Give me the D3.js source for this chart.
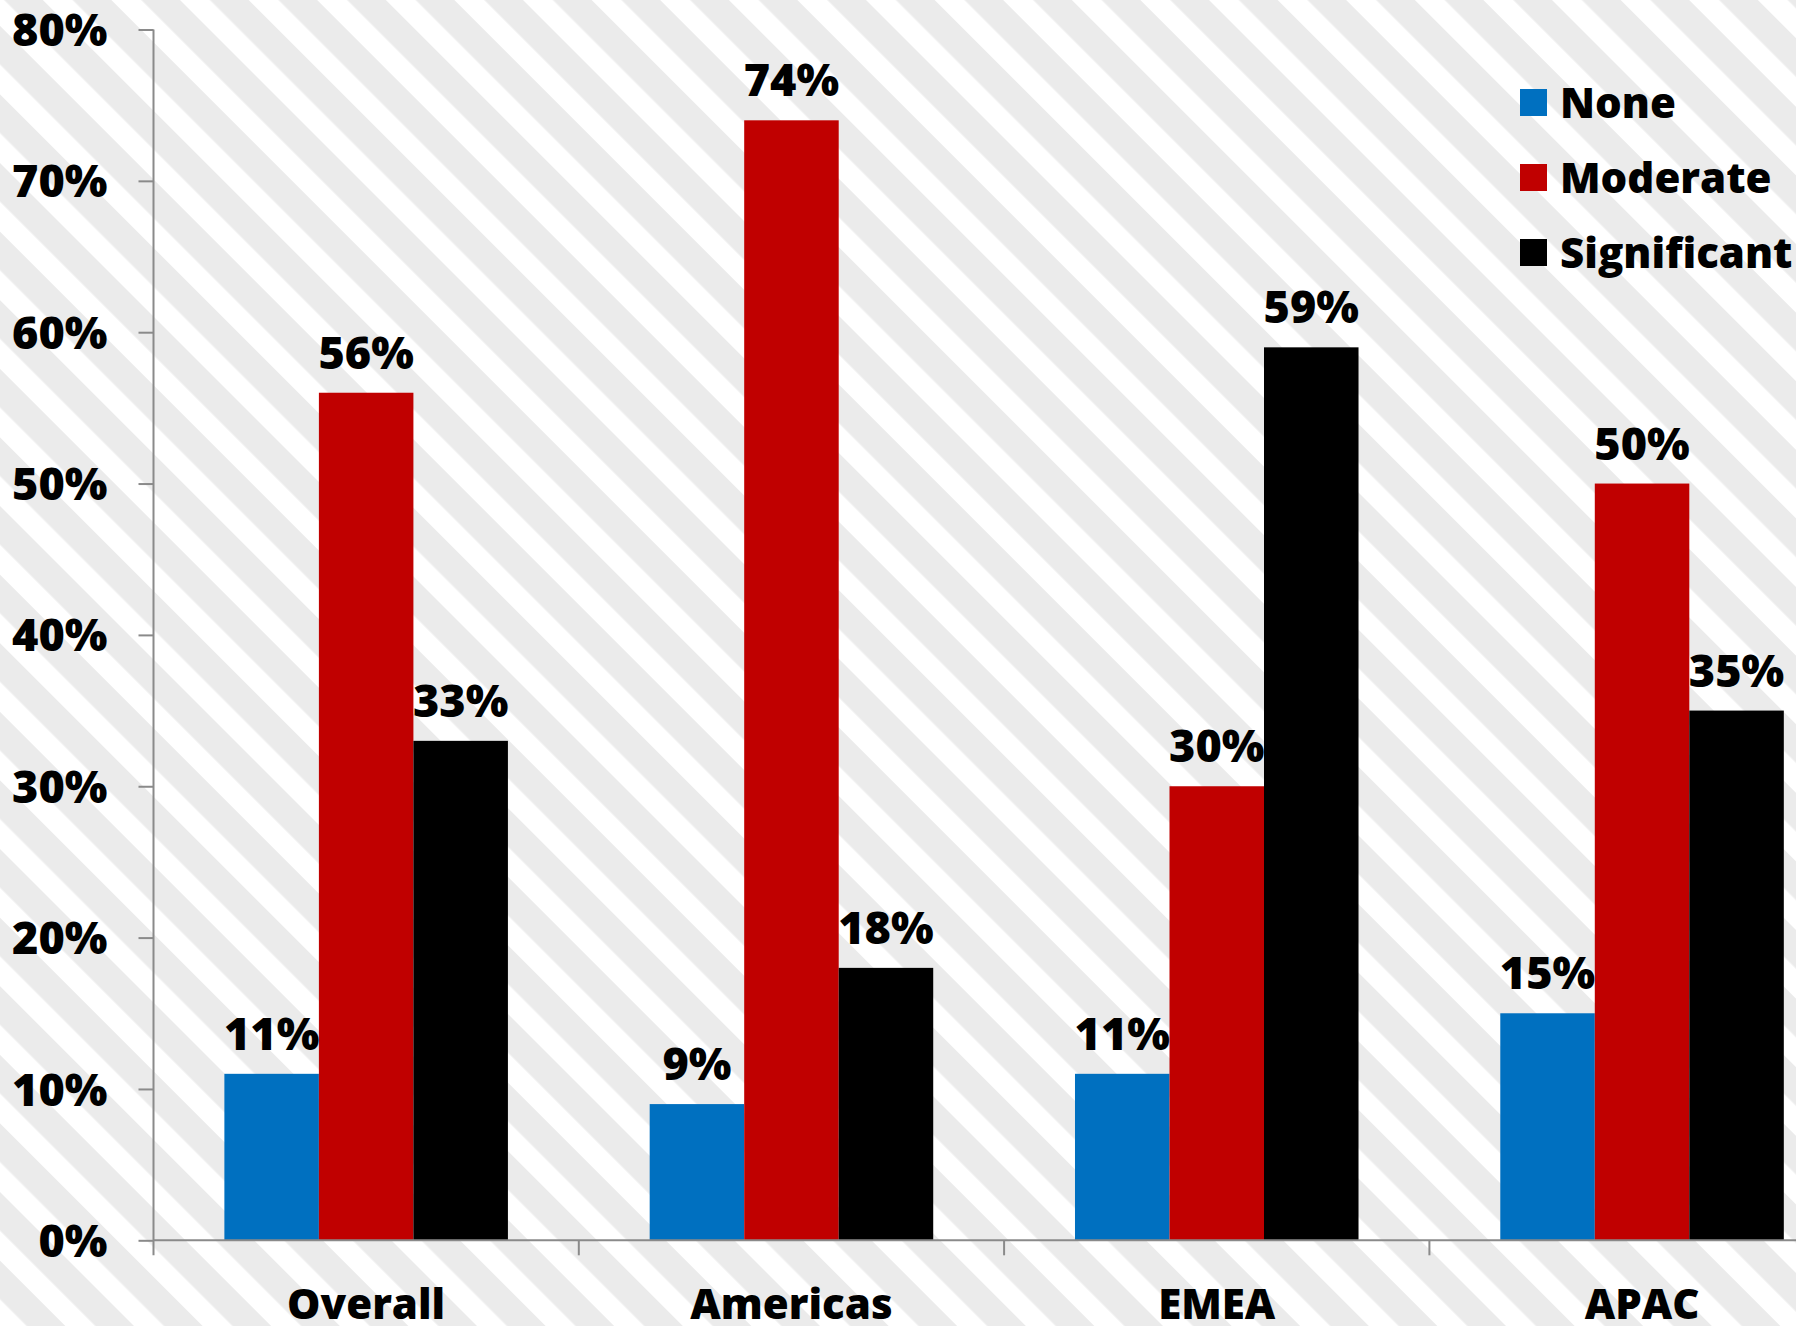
<!DOCTYPE html>
<html>
<head>
<meta charset="utf-8">
<script src="https://cdn.jsdelivr.net/npm/d3@7"></script>
<style>
  html, body { margin: 0; padding: 0; background: #fff; }
  svg { display: block; }
  text { font-family: "Open Sans", "DejaVu Sans", sans-serif; font-weight: 700; fill: #000; }
</style>
</head>
<body>
<svg id="chart" width="1796" height="1326"></svg>
<script>
// Regions and impact levels
const categories = ["Overall", "Americas", "EMEA", "APAC"];
const seriesNames = ["None", "Moderate", "Significant"];
const noneValues = [0.11, 0.09, 0.11, 0.15];
const moderateValues = [0.56, 0.74, 0.30, 0.50];
const significantValues = [0.33, 0.18, 0.59, 0.35];
const yTicks = [0, 0.1, 0.2, 0.3, 0.4, 0.5, 0.6, 0.7, 0.8];
const seriesColors = ["#0070C0", "#C00000", "#000000"];

const seriesValues = [noneValues, moderateValues, significantValues];

const W = 1796, H = 1326;
const svg = d3.select("#chart");

// Diagonal striped backdrop
const defs = svg.append("defs");
const period = 68.6 / Math.SQRT2;   // perpendicular stripe period
const whiteW = 30 / Math.SQRT2;
const pat = defs.append("pattern")
  .attr("id", "stripes")
  .attr("patternUnits", "userSpaceOnUse")
  .attr("x", 180 / Math.SQRT2)
  .attr("y", 0)
  .attr("width", period)
  .attr("height", 400)
  .attr("patternTransform", "rotate(-45)");
pat.append("rect").attr("width", period).attr("height", 400).attr("fill", "#ebebeb");
pat.append("rect").attr("width", whiteW).attr("height", 400).attr("fill", "#ffffff");

svg.append("rect").attr("width", W).attr("height", H).attr("fill", "url(#stripes)");

// Scales
const axisX = 153.5;
const bandStep = 425.3;
const x0 = d3.scaleBand()
  .domain(categories)
  .range([axisX, axisX + bandStep * categories.length])
  .paddingInner(0).paddingOuter(0);

const x1 = d3.scaleBand()
  .domain(seriesNames)
  .range([0, x0.bandwidth()])
  .paddingInner(0).paddingOuter(0.75);

const y = d3.scaleLinear().domain([0, 0.8]).range([1240.3, 29.5]);

// Bars
const groups = svg.append("g").selectAll("g")
  .data(categories)
  .join("g")
  .attr("transform", d => `translate(${x0(d)},0)`);

const rows = (cat, ci) => seriesNames.map((s, si) => ({ s, si, v: seriesValues[si][ci] }));

groups.selectAll("rect")
  .data((d, i) => rows(d, i))
  .join("rect")
  .attr("x", d => x1(d.s))
  .attr("width", x1.bandwidth())
  .attr("y", d => y(d.v))
  .attr("height", d => y(0) - y(d.v))
  .attr("fill", d => seriesColors[d.si]);

// Value labels
groups.selectAll("text")
  .data((d, i) => rows(d, i))
  .join("text")
  .attr("x", d => x1(d.s) + x1.bandwidth() / 2)
  .attr("y", d => y(d.v) - 24)
  .attr("text-anchor", "middle")
  .style("font-size", "45px")
  .style("font-weight", 800)
  .text(d => d3.format(".0%")(d.v));

// Y axis
const axisColor = "#8a8a8a";
const yAxis = svg.append("g")
  .attr("transform", `translate(${axisX},0)`)
  .call(d3.axisLeft(y).tickValues(yTicks).tickSize(15).tickPadding(31).tickFormat(d3.format(".0%")));
yAxis.select(".domain").remove();
yAxis.selectAll(".tick line").attr("stroke", axisColor).attr("stroke-width", 2);
yAxis.selectAll(".tick text")
  .attr("dy", "0.357em")
  .attr("fill", "#000")
  .style("font-size", "45px")
  .style("font-family", "'Open Sans', sans-serif")
  .style("font-weight", 800);
yAxis.append("line")
  .attr("x1", 0).attr("x2", 0)
  .attr("y1", y(0.8)).attr("y2", y(0) + 15)
  .attr("stroke", axisColor).attr("stroke-width", 2);

// X axis: baseline, ticks at band boundaries, category labels at band centres
const xAxis = svg.append("g");
xAxis.append("line")
  .attr("x1", axisX).attr("x2", W)
  .attr("y1", y(0)).attr("y2", y(0))
  .attr("stroke", axisColor).attr("stroke-width", 2);
xAxis.selectAll("line.bound")
  .data(categories.slice(1))
  .join("line")
  .attr("class", "bound")
  .attr("x1", d => x0(d)).attr("x2", d => x0(d))
  .attr("y1", y(0)).attr("y2", y(0) + 15)
  .attr("stroke", axisColor).attr("stroke-width", 2);
xAxis.selectAll("text")
  .data(categories)
  .join("text")
  .attr("x", d => x0(d) + x0.bandwidth() / 2)
  .attr("y", 1319)
  .attr("text-anchor", "middle")
  .style("font-size", "42px")
  .style("font-weight", 800)
  .text(d => d);

// Legend
const legend = svg.append("g").attr("transform", "translate(1520,89)");
const li = legend.selectAll("g")
  .data(seriesNames)
  .join("g")
  .attr("transform", (d, i) => `translate(0,${i * 75})`);
li.append("rect").attr("width", 27).attr("height", 27).attr("fill", (d, i) => seriesColors[i]);
li.append("text")
  .attr("x", 40)
  .attr("y", 13.5)
  .attr("dy", "0.357em")
  .style("font-size", "42px")
  .style("font-weight", 800)
  .text(d => d);
</script>
</body>
</html>
